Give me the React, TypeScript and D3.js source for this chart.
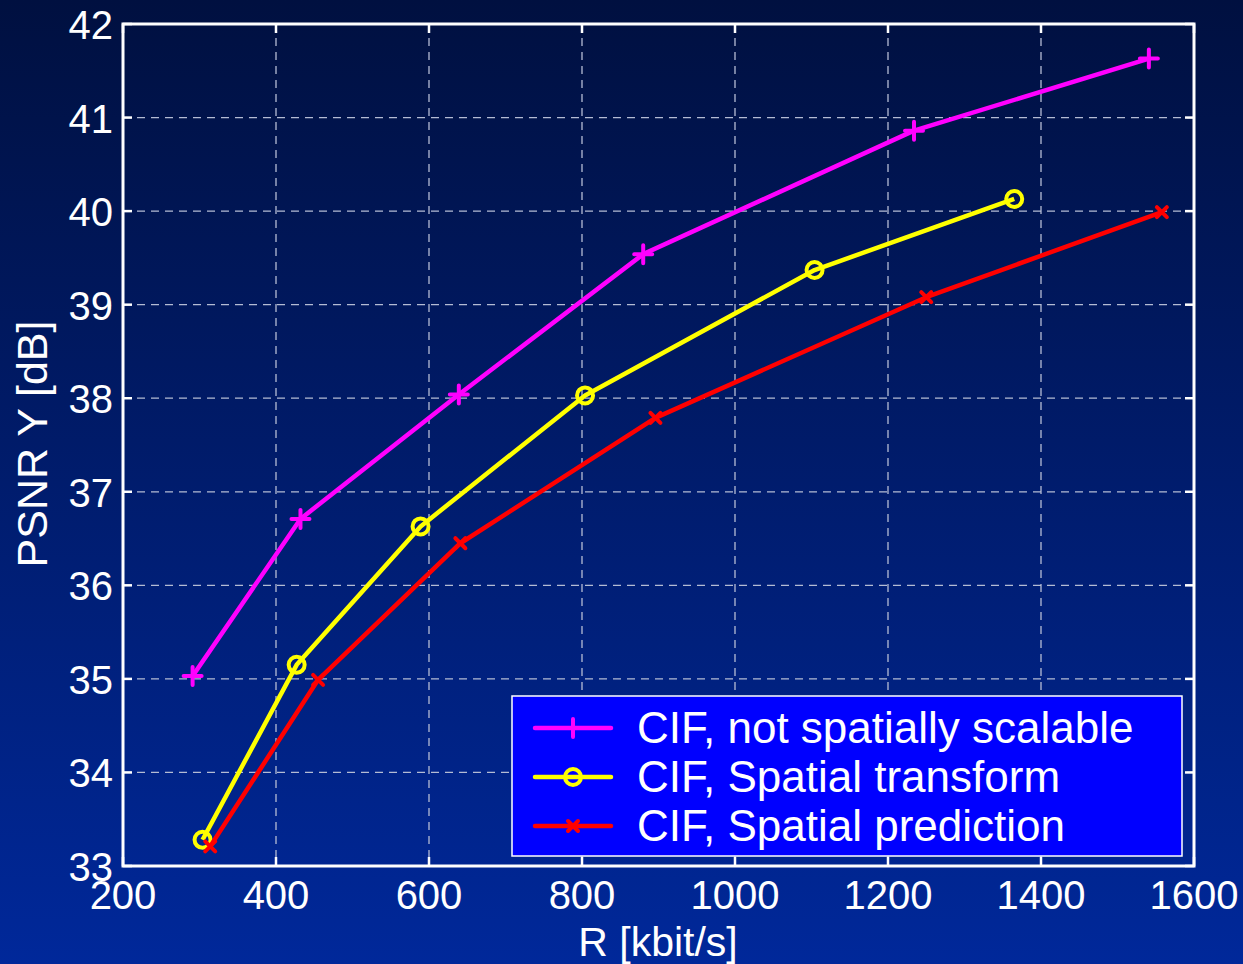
import React, { useEffect, useRef } from 'react';
import * as d3 from 'd3';

const W = 1243;
const H = 964;

// rate (kbit/s) and PSNR Y (dB) for each curve
const notScalableR = [291, 432, 639, 880, 1234, 1541];
const notScalablePsnr = [35.03, 36.71, 38.04, 39.54, 40.86, 41.63];
const transformR = [304, 427, 589, 804, 1104, 1365];
const transformPsnr = [33.28, 35.15, 36.63, 38.03, 39.37, 40.13];
const predictionR = [314, 455, 641, 896, 1250, 1558];
const predictionPsnr = [33.21, 34.99, 36.45, 37.79, 39.08, 39.99];

const xTicks = [200, 400, 600, 800, 1000, 1200, 1400, 1600];
const yTicks = [33, 34, 35, 36, 37, 38, 39, 40, 41, 42];

const seriesNames = ['CIF, not spatially scalable', 'CIF, Spatial transform', 'CIF, Spatial prediction'];
const seriesColors = ['#ff00ff', '#ffff00', '#ff0000'];
const seriesMarkers = ['plus', 'circle', 'cross'];

const App = () => {
  const svgRef = useRef(null);

  useEffect(() => {
    const svg = d3.select(svgRef.current);
    svg.selectAll('*').remove();

    const m = { left: 123, right: 1194, top: 24, bottom: 866 };
    const x = d3.scaleLinear().domain([200, 1600]).range([m.left, m.right]);
    const y = d3.scaleLinear().domain([33, 42]).range([m.bottom, m.top]);

    // background gradient
    const defs = svg.append('defs');
    const grad = defs.append('linearGradient')
      .attr('id', 'bg').attr('x1', 0).attr('y1', 0).attr('x2', 0).attr('y2', 1);
    grad.append('stop').attr('offset', '0%').attr('stop-color', '#001040');
    grad.append('stop').attr('offset', '100%').attr('stop-color', '#00289a');
    svg.append('rect').attr('width', W).attr('height', H).attr('fill', 'url(#bg)');

    const font = 'Liberation Sans, Arial, sans-serif';

    // grid
    const grid = svg.append('g')
      .attr('stroke', '#b4bcd4')
      .attr('stroke-width', 1.3)
      .attr('stroke-dasharray', '8,6');
    grid.selectAll('line.gx')
      .data(xTicks.slice(1, -1))
      .join('line')
        .attr('x1', d => x(d)).attr('x2', d => x(d))
        .attr('y1', m.top).attr('y2', m.bottom);
    grid.selectAll('line.gy')
      .data(yTicks.slice(1, -1))
      .join('line')
        .attr('class', 'gy')
        .attr('x1', m.left).attr('x2', m.right)
        .attr('y1', d => y(d)).attr('y2', d => y(d));

    // ticks (inward, both sides)
    const tl = 9;
    const ticks = svg.append('g').attr('stroke', '#fff').attr('stroke-width', 2.5);
    xTicks.forEach(t => {
      ticks.append('line').attr('x1', x(t)).attr('x2', x(t)).attr('y1', m.bottom).attr('y2', m.bottom - tl);
      ticks.append('line').attr('x1', x(t)).attr('x2', x(t)).attr('y1', m.top).attr('y2', m.top + tl);
    });
    yTicks.forEach(t => {
      ticks.append('line').attr('x1', m.left).attr('x2', m.left + tl).attr('y1', y(t)).attr('y2', y(t));
      ticks.append('line').attr('x1', m.right).attr('x2', m.right - tl).attr('y1', y(t)).attr('y2', y(t));
    });

    // axis box
    svg.append('rect')
      .attr('x', m.left).attr('y', m.top)
      .attr('width', m.right - m.left).attr('height', m.bottom - m.top)
      .attr('fill', 'none').attr('stroke', '#fff').attr('stroke-width', 3);

    // tick labels
    svg.append('g')
      .selectAll('text')
      .data(xTicks)
      .join('text')
        .attr('x', d => x(d))
        .attr('y', 909)
        .attr('text-anchor', 'middle')
        .attr('fill', '#fff')
        .style('font-family', font)
        .style('font-size', '40px')
        .text(d => d);
    svg.append('g')
      .selectAll('text')
      .data(yTicks)
      .join('text')
        .attr('x', 113)
        .attr('y', d => y(d) + 15)
        .attr('text-anchor', 'end')
        .attr('fill', '#fff')
        .style('font-family', font)
        .style('font-size', '40px')
        .text(d => d);

    // axis labels
    svg.append('text')
      .attr('x', 658)
      .attr('y', 956)
      .attr('text-anchor', 'middle')
      .attr('fill', '#fff')
      .style('font-family', font)
      .style('font-size', '41px')
      .text('R [kbit/s]');
    svg.append('text')
      .attr('transform', `translate(47,444) rotate(-90)`)
      .attr('text-anchor', 'middle')
      .attr('fill', '#fff')
      .style('font-family', font)
      .style('font-size', '43px')
      .text('PSNR Y [dB]');

    const drawMarker = (g, kind, color, cx, cy) => {
      if (kind === 'plus') {
        g.append('path').attr('d', `M${cx - 9},${cy}H${cx + 9}M${cx},${cy - 9}V${cy + 9}`)
          .attr('stroke', color).attr('stroke-width', 4).attr('stroke-linecap', 'round');
      } else if (kind === 'circle') {
        g.append('circle').attr('cx', cx).attr('cy', cy).attr('r', 8)
          .attr('fill', 'none').attr('stroke', color).attr('stroke-width', 4);
      } else {
        g.append('path').attr('d', `M${cx - 5},${cy - 5}L${cx + 5},${cy + 5}M${cx - 5},${cy + 5}L${cx + 5},${cy - 5}`)
          .attr('stroke', color).attr('stroke-width', 4).attr('stroke-linecap', 'round');
      }
    };

    const seriesData = [
      d3.zip(notScalableR, notScalablePsnr),
      d3.zip(transformR, transformPsnr),
      d3.zip(predictionR, predictionPsnr),
    ];

    const line = d3.line().x(d => x(d[0])).y(d => y(d[1]));
    const lines = svg.append('g');
    seriesData.forEach((pts, i) => {
      const g = lines.append('g');
      g.append('path')
        .attr('d', line(pts))
        .attr('fill', 'none')
        .attr('stroke', seriesColors[i])
        .attr('stroke-width', 4.5)
        .attr('stroke-linejoin', 'round');
      pts.forEach(p => drawMarker(g, seriesMarkers[i], seriesColors[i], x(p[0]), y(p[1])));
    });

    // legend
    const lg = svg.append('g');
    lg.append('rect')
      .attr('x', 512).attr('y', 696)
      .attr('width', 670).attr('height', 160)
      .attr('fill', '#0000ff').attr('stroke', '#fff').attr('stroke-width', 1.5);
    seriesNames.forEach((name, i) => {
      const ly = 728 + i * 49;
      lg.append('line')
        .attr('x1', 535).attr('x2', 611).attr('y1', ly).attr('y2', ly)
        .attr('stroke', seriesColors[i]).attr('stroke-width', 4.5).attr('stroke-linecap', 'round');
      drawMarker(lg, seriesMarkers[i], seriesColors[i], 573, ly);
      lg.append('text')
        .attr('x', 637).attr('y', ly + 15)
        .attr('fill', '#fff')
        .style('font-family', font)
        .style('font-size', '44px')
        .text(name);
    });
  }, []);

  return (
    <svg
      ref={svgRef}
      width={W}
      height={H}
      style={{ position: 'absolute', left: 0, top: 0, display: 'block' }}
    />
  );
};

export default App;
